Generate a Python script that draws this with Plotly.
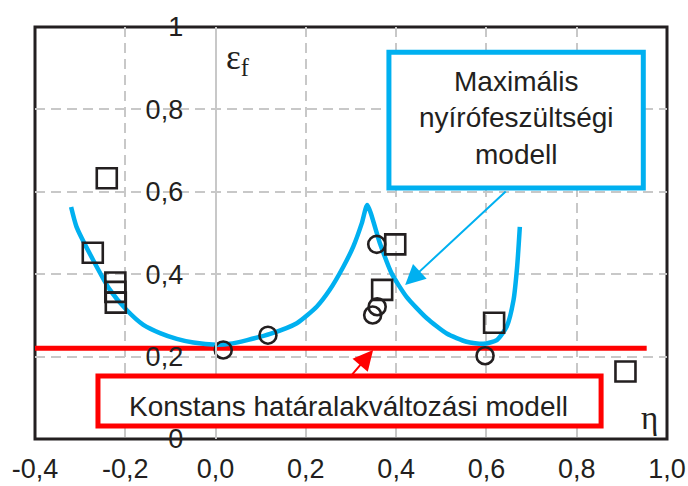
import plotly.graph_objects as go

# ---- data ----
square_x = [-0.241, -0.272, -0.222, -0.222, -0.221, 0.398, 0.369, 0.617, 0.908]
square_y = [0.633, 0.452, 0.380, 0.357, 0.331, 0.4725, 0.362, 0.282, 0.164]

circle_x = [0.017, 0.116, 0.357, 0.358, 0.348, 0.597]
circle_y = [0.216, 0.252, 0.4725, 0.321, 0.301, 0.202]

shear_x = [-0.320, -0.308, -0.271, -0.234, -0.197, -0.160, -0.123, -0.086, -0.049,
           0.002, 0.032, 0.070, 0.121, 0.180, 0.224, 0.253, 0.283, 0.305, 0.324,
           0.336, 0.364, 0.390, 0.423, 0.468, 0.512, 0.556, 0.593, 0.623, 0.645,
           0.660, 0.668, 0.674]
shear_y = [0.563, 0.515, 0.434, 0.362, 0.313, 0.277, 0.257, 0.243, 0.234,
           0.229, 0.231, 0.240, 0.255, 0.281, 0.321, 0.362, 0.418, 0.467, 0.524,
           0.568, 0.475, 0.402, 0.345, 0.293, 0.256, 0.236, 0.231, 0.240, 0.273,
           0.337, 0.418, 0.515]

const_x = [-0.4, 0.955]
const_y = [0.22, 0.22]

x_tickvals = [-0.4, -0.2, 0.0, 0.2, 0.4, 0.6, 0.8, 1.0]
x_ticktext = ["-0,4", "-0,2", "0,0", "0,2", "0,4", "0,6", "0,8", "1,0"]
y_tickvals = [0, 0.2, 0.4, 0.6, 0.8, 1.0]
y_ticktext = ["0", "0,2", "0,4", "0,6", "0,8", "1"]

label_shear = "Maximális<br>nyírófeszültségi<br>modell"
label_const = "Konstans határalakváltozási modell"

X_RANGE = [-0.4, 1.0]
Y_RANGE = [0.0, 1.0]

BLUE = "#00b0f0"
RED = "#ff0000"
INK = "#231f20"
GRID = "#c8c8c8"
FONT = "Liberation Sans, Arial, sans-serif"
SERIF = "Liberation Serif, Times New Roman, serif"

fig = go.Figure()

fig.add_trace(go.Scatter(x=const_x, y=const_y, mode="lines",
                         line=dict(color=RED, width=5), showlegend=False,
                         hoverinfo="skip"))
fig.add_trace(go.Scatter(x=shear_x, y=shear_y, mode="lines",
                         line=dict(color=BLUE, width=4.5, shape="spline", smoothing=0.6),
                         showlegend=False, hoverinfo="skip"))
fig.add_trace(go.Scatter(x=square_x, y=square_y, mode="markers",
                         marker=dict(symbol="square-open", size=20,
                                     line=dict(color=INK, width=2.6), color=INK),
                         showlegend=False))
fig.add_trace(go.Scatter(x=circle_x, y=circle_y, mode="markers",
                         marker=dict(symbol="circle-open", size=17,
                                     line=dict(color=INK, width=2.6), color=INK),
                         showlegend=False))

# frame
fig.add_shape(type="rect", xref="paper", yref="paper", x0=0, x1=1, y0=0, y1=1,
              line=dict(color=INK, width=3), layer="below")

# boxes
fig.add_shape(type="rect", xref="x", yref="y", x0=0.384, x1=0.9475, y0=0.609, y1=0.939,
              line=dict(color=BLUE, width=5), fillcolor="white", layer="above")
fig.add_shape(type="rect", xref="x", yref="y", x0=-0.2605, x1=0.854, y0=0.0316, y1=0.153,
              line=dict(color=RED, width=5), fillcolor="white", layer="above")

fig.add_annotation(x=0.666, y=0.779, xref="x", yref="y", text=label_shear,
                   showarrow=False, font=dict(family=FONT, size=28, color=INK))
fig.add_annotation(x=0.294, y=0.078, xref="x", yref="y", text=label_const,
                   showarrow=False, font=dict(family=FONT, size=28, color=INK))

# arrows
fig.add_annotation(x=0.42, y=0.374, ax=0.646, ay=0.604, xref="x", yref="y",
                   axref="x", ayref="y", text="", showarrow=True, arrowhead=2,
                   arrowsize=2, arrowwidth=2, arrowcolor=BLUE, standoff=0)
fig.add_annotation(x=0.349, y=0.216, ax=0.30, ay=0.153, xref="x", yref="y",
                   axref="x", ayref="y", text="", showarrow=True, arrowhead=2,
                   arrowsize=2, arrowwidth=2, arrowcolor=RED, standoff=0)

# axis symbols
fig.add_annotation(x=0.019, y=0.92, xref="x", yref="y", xanchor="left",
                   text="ε<sub>f</sub>", showarrow=False,
                   font=dict(family=SERIF, size=35, color=INK))
fig.add_annotation(x=0.962, y=0.05, xref="x", yref="y",
                   text="η", showarrow=False,
                   font=dict(family=SERIF, size=33, color=INK))

fig.update_layout(
    width=688, height=486,
    margin=dict(l=35, r=21, t=27, b=47, autoexpand=False),
    paper_bgcolor="white", plot_bgcolor="white",
    xaxis=dict(range=X_RANGE, tickvals=x_tickvals, ticktext=x_ticktext,
               automargin=False,
               showgrid=True, gridcolor=GRID, griddash="10px,6px", gridwidth=1.5,
               zeroline=False, showline=False, ticks="",
               ticklabelstandoff=11,
               tickfont=dict(family=FONT, size=27, color=INK)),
    yaxis=dict(range=Y_RANGE, tickvals=y_tickvals, ticktext=y_ticktext,
               anchor="free", automargin=False,
               position=(0 - X_RANGE[0]) / (X_RANGE[1] - X_RANGE[0]),
               showgrid=True, gridcolor=GRID, griddash="10px,6px", gridwidth=1.5,
               zeroline=False, showline=True, linecolor=GRID, linewidth=2,
               ticks="", ticklabelstandoff=26,
               tickfont=dict(family=FONT, size=27, color=INK)),
)

fig.write_html("out.html")
